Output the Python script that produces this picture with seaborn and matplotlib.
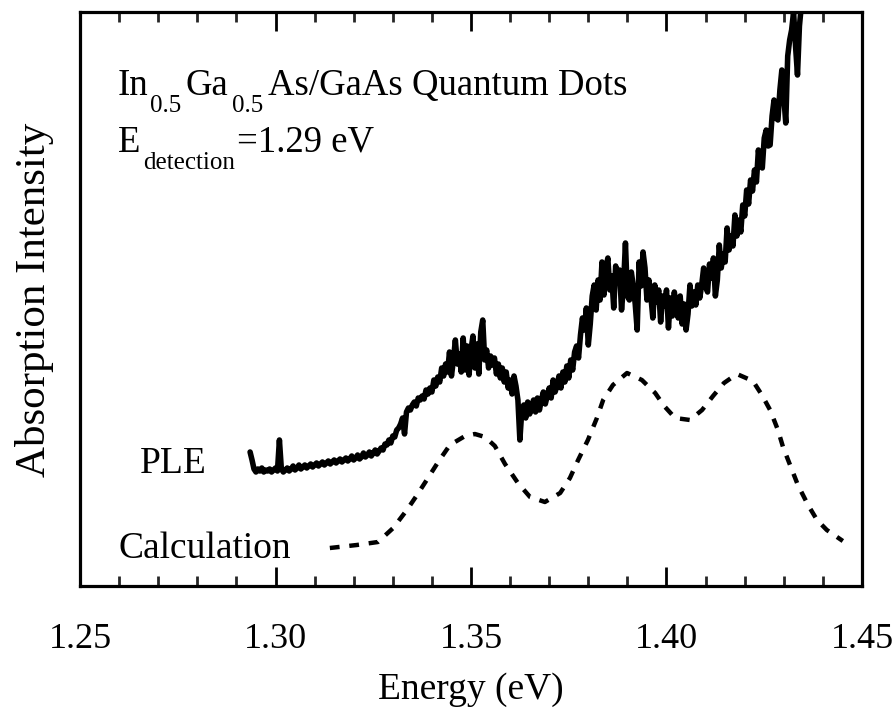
import numpy as np
import pandas as pd
import matplotlib
matplotlib.use("Agg")
import matplotlib.pyplot as plt
import seaborn as sns

# PLE spectrum, sampled every 0.5 meV from 1.2935 eV (intensity in arbitrary units)
ple_start, ple_step = 1.2935, 0.0005
ple_intensity = [
    134, 126, 117, 114, 117, 115, 118, 114, 116, 115,
    117, 114, 116, 118, 115, 146, 117, 114, 116, 118,
    115, 117, 120, 116, 118, 121, 117, 119, 121, 118,
    120, 122, 119, 121, 123, 120, 122, 124, 121, 123,
    125, 122, 124, 126, 123, 125, 127, 124, 126, 128,
    125, 127, 130, 126, 128, 131, 127, 129, 133, 129,
    131, 134, 130, 133, 136, 132, 135, 138, 136, 142,
    141, 146, 143, 150, 149, 156, 158, 162, 168, 152,
    174, 178, 176, 181, 184, 180, 188, 186, 190, 187,
    196, 192, 198, 194, 206, 200, 209, 204, 218, 210,
    222, 214, 234, 210, 226, 246, 222, 232, 214, 248,
    216, 240, 211, 236, 250, 218, 242, 212, 254, 266,
    226, 236, 218, 230, 221, 228, 212, 222, 208, 218,
    204, 214, 198, 206, 192, 210, 200, 186, 146, 176,
    181, 168, 184, 172, 178, 186, 174, 188, 176, 186,
    194, 182, 190, 198, 188, 206, 194, 200, 210, 198,
    214, 204, 220, 208, 226, 216, 234, 240, 228, 251,
    268, 256, 278, 241, 262, 290, 301, 276, 306, 286,
    324, 291, 318, 328, 296, 310, 278, 320, 304, 316,
    276, 300, 343, 290, 286, 314, 300, 282, 256, 324,
    300, 334, 318, 286, 306, 290, 268, 301, 284, 296,
    264, 290, 280, 296, 258, 288, 270, 294, 278, 268,
    290, 262, 282, 256, 272, 301, 280, 294, 281, 301,
    288, 301, 318, 300, 294, 322, 308, 328, 290, 306,
    341, 318, 332, 324, 358, 336, 350, 340, 371, 350,
    366, 354, 381, 370, 396, 382, 406, 395, 416, 404,
    436, 420, 418, 448, 456, 440, 441, 470, 486, 468,
    466, 496, 516, 490, 463, 530, 546, 556, 574, 540,
    511, 560, 581, 590, 600,
]
ple_energy = ple_start + ple_step * np.arange(len(ple_intensity))

# Calculated absorption spectrum
calc_energy = [
    1.3139, 1.3208, 1.3262, 1.3301, 1.3336, 1.3362, 1.3390, 1.3416, 1.3446,
    1.3485, 1.3510, 1.3536, 1.3561, 1.3587, 1.3620, 1.3651, 1.3689, 1.3728,
    1.3753, 1.3774, 1.3799, 1.3822, 1.3838, 1.3863, 1.3899, 1.3937, 1.3971,
    1.3994, 1.4022, 1.4060, 1.4091, 1.4119, 1.4147, 1.4180, 1.4221, 1.4244,
    1.4265, 1.4285, 1.4298, 1.4316, 1.4336, 1.4362, 1.4385, 1.4410, 1.4451,
]
calc_intensity = [
    38, 41, 44, 58, 76, 91, 108, 124, 141,
    150, 152, 149, 140, 122, 103, 89, 84, 93,
    108, 126, 146, 168, 186, 201, 213, 206, 193,
    180, 168, 166, 176, 190, 203, 212, 205, 191,
    176, 156, 139, 121, 101, 81, 66, 56, 45,
]

xticks = [1.25, 1.30, 1.35, 1.40, 1.45]
xtick_labels = ["1.25", "1.30", "1.35", "1.40", "1.45"]

sns.set_theme(style="ticks")
plt.rcParams["font.family"] = ["Liberation Serif", "DejaVu Serif"]

W, H = 894, 713
fig = plt.figure(figsize=(W / 100, H / 100), dpi=100)
ax = fig.add_axes([80 / W, 1 - 586 / H, (862 - 80) / W, (586 - 12) / H])

ple = pd.DataFrame({"energy": ple_energy, "intensity": ple_intensity})
calc = pd.DataFrame({"energy": calc_energy, "intensity": calc_intensity})

sns.lineplot(data=ple, x="energy", y="intensity", ax=ax, color="black",
             linewidth=4.0, sort=False, estimator=None)
sns.lineplot(data=calc, x="energy", y="intensity", ax=ax, color="black",
             linewidth=3.2, linestyle=(0, (2.2, 2.2)), sort=False, estimator=None)

ax.set_xlim(1.25, 1.45)
ax.set_ylim(0, 574)
ax.set_xticks(xticks)
ax.set_xticklabels(xtick_labels)
ax.set_xticks(np.arange(1.25, 1.4501, 0.01), minor=True)
ax.set_yticks([])
ax.tick_params(axis="x", which="major", direction="in", length=14, width=2.0,
               top=True, bottom=True, labelsize=26, pad=27, colors="black")
ax.tick_params(axis="x", which="minor", direction="in", length=7, width=2.0,
               top=True, bottom=True)
for s in ax.spines.values():
    s.set_visible(True)
    s.set_linewidth(2.3)
    s.set_color("black")

ax.set_xlabel("Energy (eV)", fontsize=27, color="black", va="top")
ax.xaxis.set_label_coords(0.5, -0.150)
ax.set_ylabel("")
fig.text(35 / W, 1 - 300 / H, "Absorption Intensity", rotation=90,
         fontsize=31, ha="center", va="center", color="black")

# Labels with hand-set subscripts: (text, size, baseline offset in px, gap after in px)
renderer = fig.canvas.get_renderer()


def text_run(x0, y0, pieces):
    x = x0
    for s, size, drop, gap in pieces:
        t = fig.text(x / W, 1 - (y0 + drop) / H, s, fontsize=size,
                     ha="left", va="baseline", color="black")
        x += t.get_window_extent(renderer).width + gap


MAIN, SUB = 26.5, 18
text_run(118, 95, [("In", MAIN, 0, 1), ("0.5", SUB, 17, 5), ("Ga", MAIN, 0, 3),
                   ("0.5", SUB, 17, 5), ("As/GaAs Quantum Dots", MAIN, 0, 0)])
text_run(118, 152, [("E", MAIN, 0, 3), ("detection", SUB, 17, 2),
                    ("=1.29 eV", MAIN, 0, 0)])

fig.text(140 / W, 1 - 473 / H, "PLE", fontsize=27, ha="left",
         va="baseline", color="black")
fig.text(118 / W, 1 - 558 / H, "Calculation", fontsize=27, ha="left",
         va="baseline", color="black")

fig.savefig("out.png", dpi=100, facecolor="white")
